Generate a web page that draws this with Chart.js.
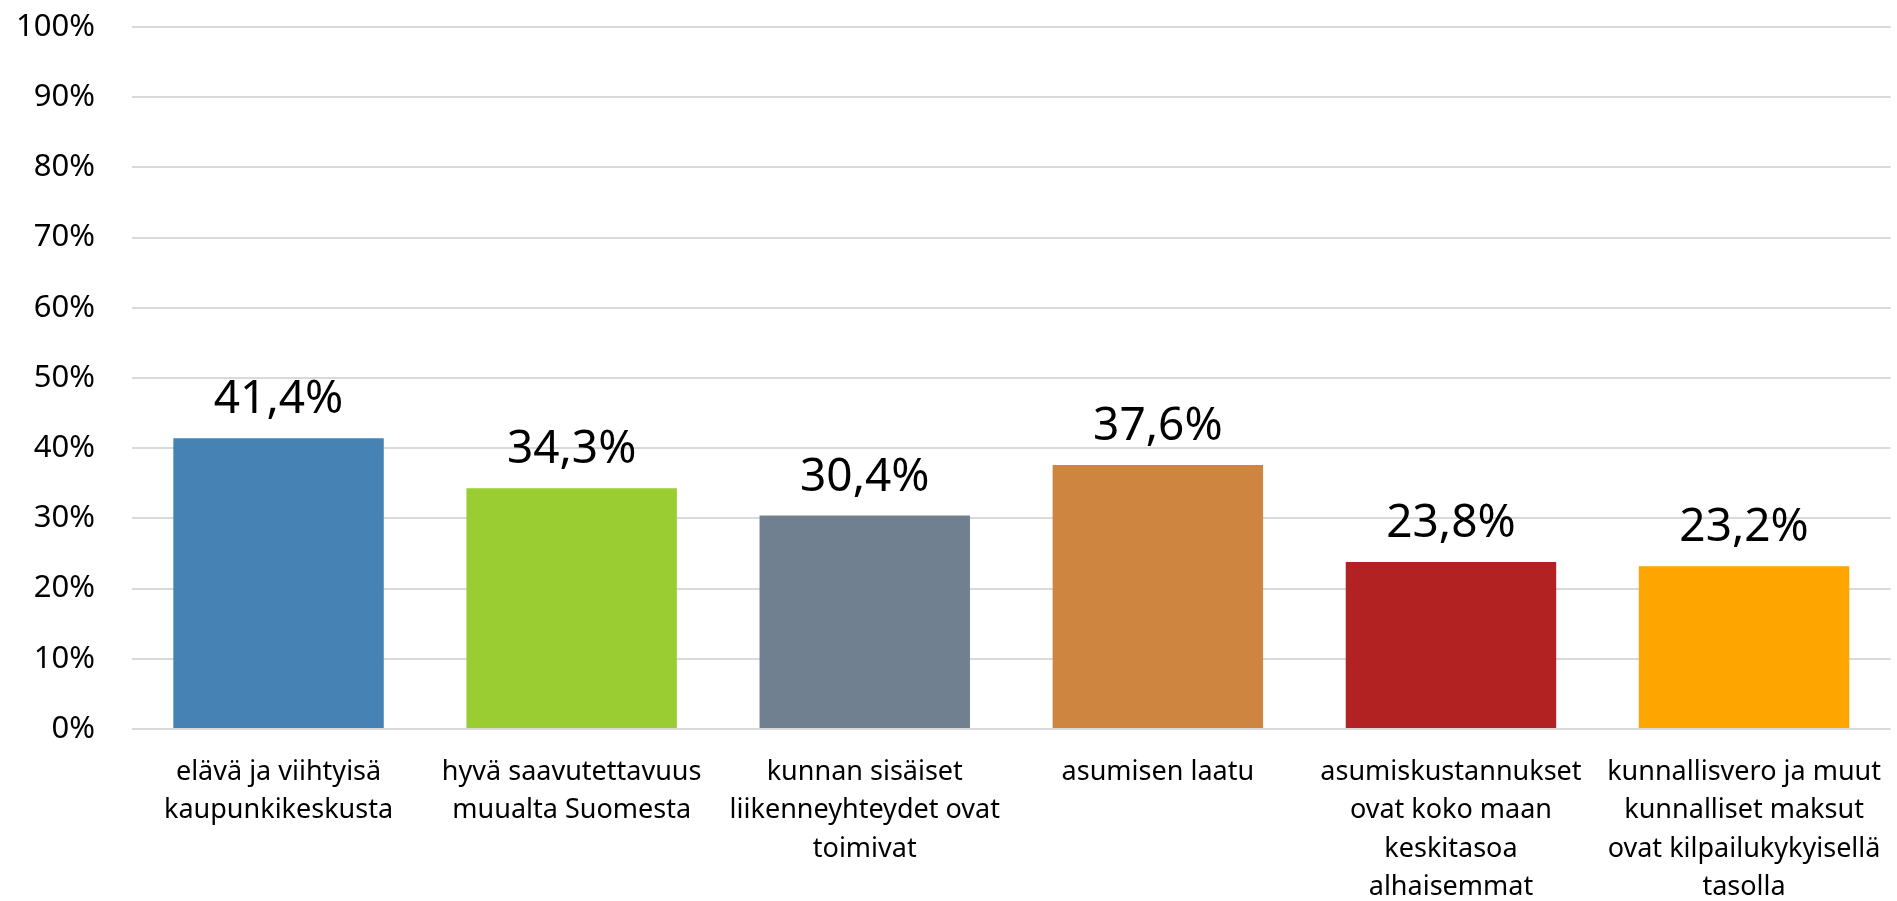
<!DOCTYPE html>
<html>
<head>
<meta charset="utf-8">
<script src="https://cdn.jsdelivr.net/npm/chart.js@4.4.0/dist/chart.umd.min.js"></script>
<style>
  html, body { margin: 0; padding: 0; background: #fff; }
  #wrap { width: 1897px; height: 901px; }
</style>
</head>
<body>
<div id="wrap"><canvas id="tekijat"></canvas></div>
<script>
// kategoriat (rivitetty kuten alkuperäisessä)
var kategoriat = [
  ['elävä ja viihtyisä', 'kaupunkikeskusta'],
  ['hyvä saavutettavuus', 'muualta Suomesta'],
  ['kunnan sisäiset', 'liikenneyhteydet ovat', 'toimivat'],
  ['asumisen laatu'],
  ['asumiskustannukset', 'ovat koko maan', 'keskitasoa', 'alhaisemmat'],
  ['kunnallisvero ja muut', 'kunnalliset maksut', 'ovat kilpailukykyisellä', 'tasolla']
];
var osuudet = [41.4, 34.3, 30.4, 37.6, 23.8, 23.2];
var arvoTekstit = ['41,4%', '34,3%', '30,4%', '37,6%', '23,8%', '23,2%'];
var pylvasVarit = ['#4682B4', '#9ACD32', '#708090', '#CD853F', '#B22222', '#FFA500'];
var yTicks = [0, 10, 20, 30, 40, 50, 60, 70, 80, 90, 100];

var fontti = '"Noto Sans", "Open Sans", sans-serif';

// arvot pylväiden yläpuolelle
var arvoPlugin = {
  id: 'arvoPlugin',
  afterDatasetsDraw: function(chart) {
    var ctx = chart.ctx;
    var meta = chart.getDatasetMeta(0);
    ctx.save();
    ctx.font = '46px ' + fontti;
    ctx.fillStyle = '#000';
    ctx.textAlign = 'center';
    ctx.textBaseline = 'alphabetic';
    meta.data.forEach(function(bar, i) {
      ctx.fillText(arvoTekstit[i], bar.x, bar.y - 25);
    });
    ctx.restore();
  }
};

var ctx = document.getElementById('tekijat').getContext('2d');
var chart = new Chart(ctx, {
  type: 'bar',
  data: {
    labels: kategoriat,
    datasets: [{
      data: osuudet,
      backgroundColor: pylvasVarit,
      borderWidth: 0,
      categoryPercentage: 1,
      barPercentage: 0.718
    }]
  },
  options: {
    responsive: true,
    maintainAspectRatio: false,
    animation: false,
    layout: { padding: { top: 27, right: 0, bottom: 0, left: 0 } },
    plugins: {
      legend: { display: false },
      tooltip: { enabled: false }
    },
    scales: {
      x: {
        grid: { display: false },
        border: { display: false },
        ticks: {
          color: '#000',
          font: { family: fontti, size: 27, lineHeight: 1.42 },
          padding: 16,
          maxRotation: 0,
          autoSkip: false
        },
        afterFit: function(scale) { scale.height = 172; }
      },
      y: {
        min: 0,
        max: 100,
        afterBuildTicks: function(scale) {
          scale.ticks = yTicks.map(function(v) { return { value: v }; });
        },
        grid: { color: '#d9d9d9', lineWidth: 2, drawTicks: false },
        border: { display: false },
        ticks: {
          color: '#000',
          font: { family: fontti, size: 31 },
          padding: 37,
          callback: function(value) { return value + '%'; }
        },
        afterFit: function(scale) {
          scale.width = 132;
          scale.paddingTop = 0;
          scale.paddingBottom = 0;
        }
      }
    }
  },
  plugins: [arvoPlugin]
});
</script>
</body>
</html>
